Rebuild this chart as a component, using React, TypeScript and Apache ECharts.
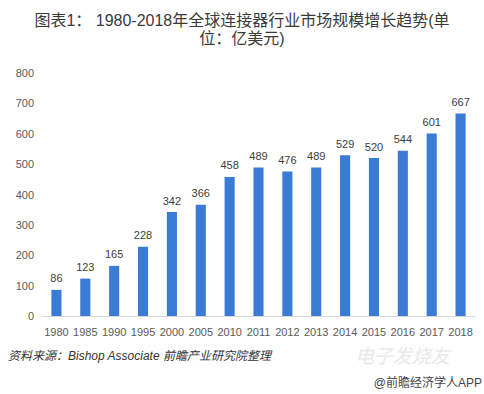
import React, { useEffect, useRef } from "react";
import * as echarts from "echarts";

const categories = ["1980", "1985", "1990", "1995", "2000", "2005", "2010", "2011", "2012", "2013", "2014", "2015", "2016", "2017", "2018"];
const values = [86, 123, 165, 228, 342, 366, 458, 489, 476, 489, 529, 520, 544, 601, 667];
const yTicks = [0, 100, 200, 300, 400, 500, 600, 700, 800];

export default function App() {
  const ref = useRef<HTMLDivElement>(null);
  useEffect(() => {
    if (!ref.current) return;
    const chart = echarts.init(ref.current, undefined, { renderer: "svg" });
    const numFont = "'Liberation Sans', Arial, sans-serif";
    const cjkFont = "'Noto Sans CJK SC', sans-serif";
    const titleFont = "'Liberation Sans', 'Noto Sans CJK SC', sans-serif";
    chart.setOption({
      animation: false,
      backgroundColor: "#ffffff",
      grid: { left: 42, right: 9, top: 73, bottom: 78 },
      xAxis: {
        type: "category",
        data: categories,
        axisLine: { lineStyle: { color: "#d9d9d9" } },
        axisTick: { show: false },
        axisLabel: { color: "#595959", fontSize: 11, margin: 10, interval: 0, fontFamily: numFont },
      },
      yAxis: {
        type: "value",
        min: yTicks[0],
        max: yTicks[yTicks.length - 1],
        interval: 100,
        splitLine: { show: false },
        axisLine: { show: false },
        axisTick: { show: false },
        axisLabel: { color: "#595959", fontSize: 11, margin: 8, fontFamily: numFont },
      },
      series: [
        {
          type: "bar",
          data: values,
          barWidth: "35%",
          itemStyle: { color: "#3a7bd5" },
          label: { show: true, position: "top", color: "#404040", fontSize: 11, distance: 6, fontFamily: numFont },
        },
      ],
      graphic: [
        {
          type: "text",
          x: 242,
          y: 11,
          style: {
            text: "图表1： 1980-2018年全球连接器行业市场规模增长趋势(单",
            fontSize: 16,
            lineHeight: 18,
            fill: "#3a3a3a",
            align: "center",
            fontFamily: titleFont,
          },
        },
        {
          type: "text",
          x: 242,
          y: 29,
          style: {
            text: "位：亿美元)",
            fontSize: 16,
            lineHeight: 18,
            fill: "#3a3a3a",
            align: "center",
            fontFamily: titleFont,
          },
        },
        {
          type: "text",
          left: 8,
          top: 350,
          style: {
            text: "资料来源：Bishop Associate 前瞻产业研究院整理",
            fontSize: 12,
            fontStyle: "italic",
            fill: "#333333",
            fontFamily: titleFont,
          },
        },
        {
          type: "text",
          left: 355,
          top: 345,
          style: {
            text: "电子发烧友",
            fontSize: 19,
            fontStyle: "italic",
            fill: "#e8e8e8",
            fontFamily: cjkFont,
          },
        },
        {
          type: "text",
          right: 2,
          top: 377,
          style: {
            text: "@前瞻经济学人APP",
            fontSize: 12,
            fill: "#444444",
            fontFamily: titleFont,
          },
        },
      ],
    });
    return () => chart.dispose();
  }, []);
  return <div ref={ref} style={{ width: 484, height: 394, position: "absolute", left: 0, top: 0 }} />;
}
